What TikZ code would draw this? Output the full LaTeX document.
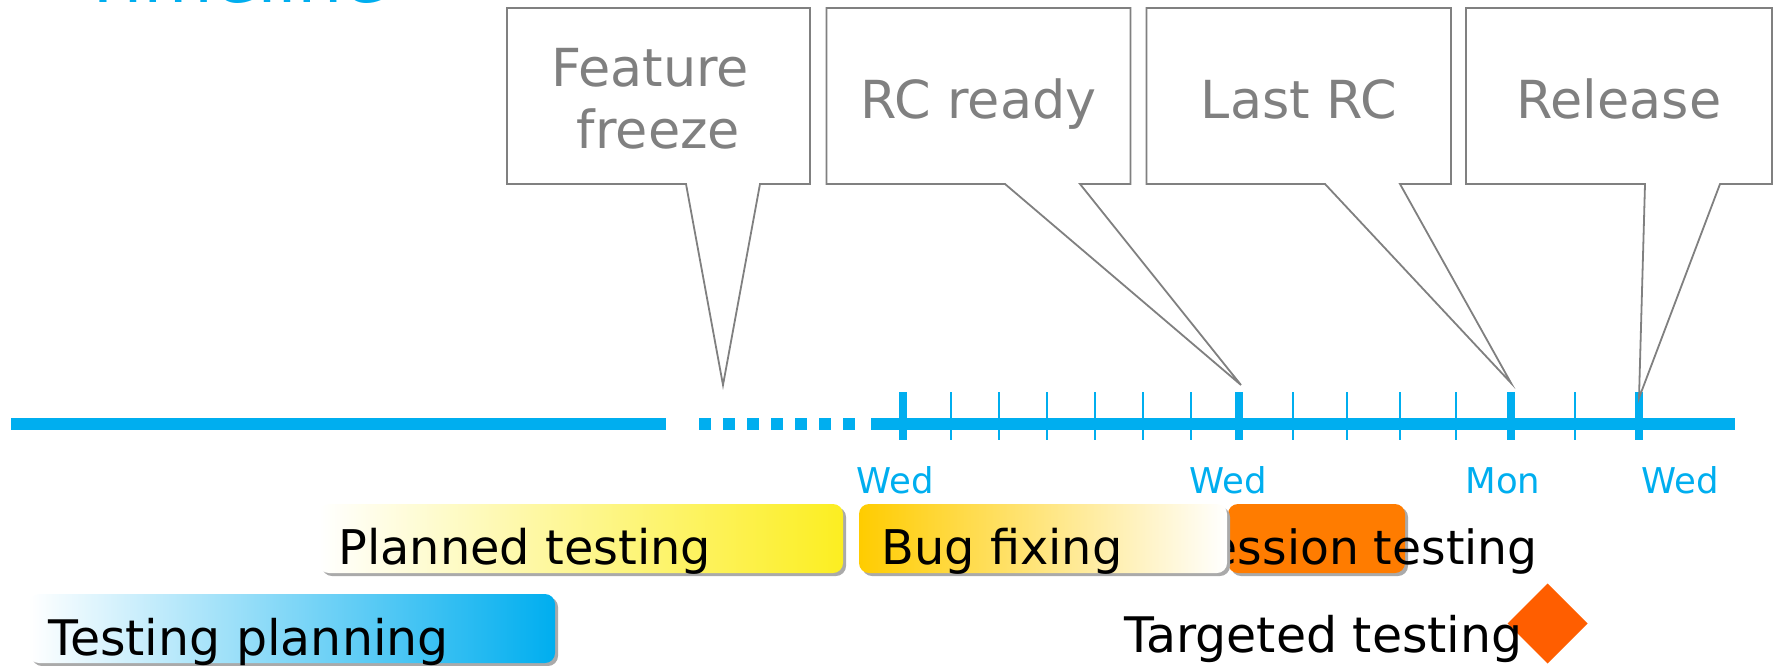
\documentclass[tikz,border=0pt]{standalone}
\usepackage{fontspec}
\setmainfont{DejaVu Sans}
\definecolor{tlblue}{RGB}{0,174,239}
\definecolor{cgray}{RGB}{128,128,128}
\definecolor{pyellow}{RGB}{252,238,33}
\definecolor{bfyellow}{RGB}{255,204,0}
\definecolor{rorange}{RGB}{255,124,0}
\definecolor{dorange}{RGB}{255,94,0}
\definecolor{shadowgray}{RGB}{170,170,170}
\begin{document}
\begin{tikzpicture}[x=0.5pt,y=-0.5pt,
  callout/.style={draw=cgray, line width=0.9pt, fill=white},
  ctext/.style={text=cgray, font=\fontsize{26.2}{31}\selectfont, inner sep=0, anchor=base},
  day/.style={text=tlblue, font=\fontsize{17.75}{20}\selectfont, inner sep=0, anchor=base},
  bartext/.style={font=\fontsize{23.9}{28}\selectfont, inner sep=0},
  bartextb/.style={font=\fontsize{24.5}{29}\selectfont, inner sep=0},
  bar/.style={rounded corners=5pt},
  barshadow/.style={fill=shadowgray, rounded corners=5pt},
  axisline/.style={draw=tlblue, line width=6pt},
  major/.style={draw=tlblue, line width=4pt},
  minor/.style={draw=tlblue, line width=1pt}]
\useasboundingbox (0,0) rectangle (1777,665);

% title (mostly cut off)
\node[anchor=base west, inner sep=0, text=tlblue, font=\fontsize{35.9}{42}\selectfont] (title) at (81,2.5) {Timeline};

% axis
\draw[axisline] (11,424) -- (666,424);
\draw[axisline, dash pattern=on 6pt off 6pt] (699,424) -- (855,424);
\draw[axisline] (871,424) -- (1735,424);
\foreach \x in {951,999,1047,1095,1143,1191,1293,1347,1400,1456,1575}
  \draw[minor] (\x,392) -- (\x,440);
\foreach \x in {903,1239,1511,1639}
  \draw[major] (\x,392) -- (\x,440);

% day labels
\node[day] (d1) at (895,493) {Wed};
\node[day] (d2) at (1228,493) {Wed};
\node[day] (d3) at (1503,493) {Mon};
\node[day] (d4) at (1680,493) {Wed};

% callouts
\draw[callout] (507,8) -- (810,8) -- (810,184) -- (760,184) -- (723,385) -- (686,184) -- (507,184) -- cycle;
\draw[callout] (826.5,8) -- (1130.5,8) -- (1130.5,184) -- (1080,184) -- (1241,385) -- (1005,184) -- (826.5,184) -- cycle;
\draw[callout] (1146.5,8) -- (1451,8) -- (1451,184) -- (1400,184) -- (1511,383) -- (1325,184) -- (1146.5,184) -- cycle;
\draw[callout] (1466,8) -- (1772,8) -- (1772,184) -- (1720,184) -- (1639,398) -- (1645,184) -- (1466,184) -- cycle;

\node[ctext] (ff1) at (658.5,86) {Feature\hspace*{0.318em}};
\node[ctext] (ff2) at (658.5,148) {freeze};
\node[ctext] (rc) at (978.5,118) {RC ready};
\node[ctext] (lrc) at (1299,118) {Last RC};
\node[ctext] (rel) at (1619,118) {Release};

% planned testing
\fill[barshadow] (322,507) rectangle (846,576);
\shade[bar, left color=white, right color=pyellow] (319,504) rectangle (843,573);
\node[bartext, anchor=base west] (pt) at (338,564) {Planned testing};

% regression testing
\fill[barshadow] (1231,507) rectangle (1408,576);
\fill[bar, rorange] (1228,504) rectangle (1405,573);
\node[bartext, font=\fontsize{23.6}{28}\selectfont, anchor=base east] (rt) at (1538,564) {Regression testing};

% bug fixing
\fill[barshadow] (862,507) rectangle (1230,576);
\shade[bar, left color=bfyellow, right color=white] (859,504) rectangle (1227,573);
\node[bartext, anchor=base west] (bf) at (881,564) {Bug fixing};

% testing planning
\fill[barshadow] (32,597) rectangle (558,666);
\shade[bar, left color=white, right color=tlblue] (29,594) rectangle (555,663);
\node[bartextb, anchor=base west] (tp) at (48,655) {Testing planning};

% targeted testing
\fill[dorange] (1507.5,623.5) -- (1547.5,583.5) -- (1587.5,623.5) -- (1547.5,663.5) -- cycle;
\node[bartextb, anchor=base west] (tt) at (1124,652) {Targeted testing};
\end{tikzpicture}
\end{document}
